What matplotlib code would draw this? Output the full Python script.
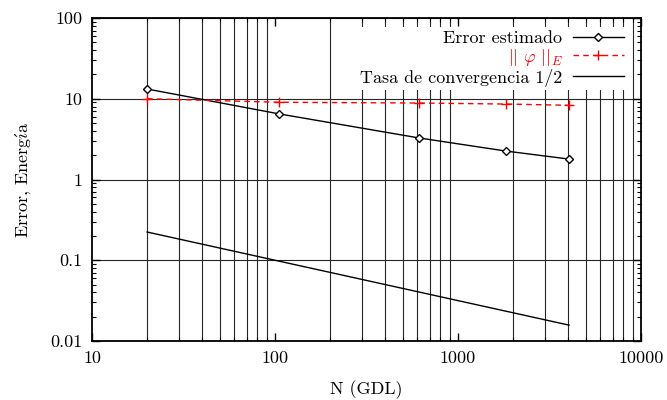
import numpy as np
import matplotlib
matplotlib.use("Agg")
import matplotlib.pyplot as plt
from matplotlib.ticker import LogLocator, FuncFormatter, NullFormatter

plt.rcParams["font.family"] = "serif"
plt.rcParams["font.serif"] = ["cmr10"]
plt.rcParams["mathtext.fontset"] = "cm"
plt.rcParams["axes.formatter.use_mathtext"] = True

# datos
gdl = [20, 105, 612, 1828, 4046]
error_estimado = [13.2, 6.5, 3.27, 2.25, 1.79]
energia = [10.0, 9.05, 8.85, 8.6, 8.3]
tasa = [1 / np.sqrt(n) for n in gdl]

fig = plt.figure(figsize=(6.67, 4.0), dpi=100)
ax = fig.add_axes([0.138, 0.1475, 0.823, 0.8075])

ax.plot(gdl, error_estimado, color="black", lw=1.0, marker="D", ms=4.2,
        mfc="white", mec="black", mew=1.0, label="Error estimado", zorder=3)
ax.plot(gdl, energia, color="red", lw=1.0, ls=(0, (4, 3)), marker="+", ms=7,
        mew=1.0, label=r"$||\ \varphi\ ||_E$", zorder=3)
ax.plot(gdl, tasa, color="black", lw=1.0, label="Tasa de convergencia 1/2", zorder=3)

ax.set_xscale("log")
ax.set_yscale("log")
ax.set_xlim(10, 10000)
ax.set_ylim(0.01, 100)

ax.xaxis.set_major_locator(LogLocator(base=10, numticks=10))
ax.xaxis.set_minor_locator(LogLocator(base=10, subs=np.arange(2, 10), numticks=20))
ax.yaxis.set_major_locator(LogLocator(base=10, numticks=10))
ax.yaxis.set_minor_locator(LogLocator(base=10, subs=np.arange(2, 10), numticks=20))
fmt = FuncFormatter(lambda v, p: "%g" % v)
ax.xaxis.set_major_formatter(fmt)
ax.yaxis.set_major_formatter(fmt)
ax.xaxis.set_minor_formatter(NullFormatter())
ax.yaxis.set_minor_formatter(NullFormatter())

ax.tick_params(which="both", direction="in", top=True, right=True, labelsize=13)
ax.tick_params(which="major", length=6, width=1.0, pad=7)
ax.tick_params(which="minor", length=3, width=0.8)

ax.grid(True, axis="x", which="minor", color="0.15", lw=0.8)
ax.grid(True, axis="y", which="major", color="0.15", lw=0.8)
ax.grid(False, axis="x", which="major")
ax.set_axisbelow(True)

for s in ax.spines.values():
    s.set_linewidth(1.3)

ax.set_xlabel("N (GDL)", fontsize=13, labelpad=10)
ax.set_ylabel(r"Error, Energ$\mathrm{\acute{\imath}}$a", fontsize=13, labelpad=12)

leg = ax.legend(loc="upper right", bbox_to_anchor=(0.985, 0.99),
                markerfirst=False, frameon=True, fontsize=13,
                handlelength=2.8, borderaxespad=0.3, borderpad=0.2,
                labelspacing=0.05, handletextpad=0.6, fancybox=False)
leg.get_frame().set_edgecolor("none")
leg.get_frame().set_facecolor("white")
leg.get_frame().set_alpha(1.0)
leg.get_texts()[1].set_color("red")

fig.savefig("out.png", dpi=100)
